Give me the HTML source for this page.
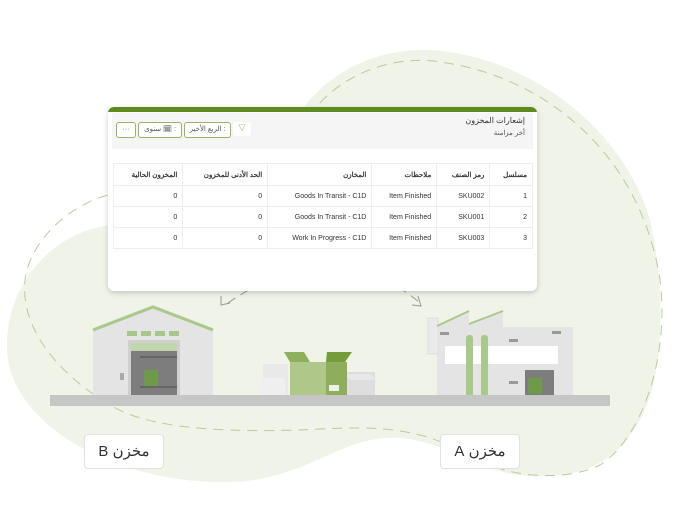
<!DOCTYPE html>
<html><head><meta charset="utf-8"><style>
html,body{margin:0;padding:0;background:#fff;width:692px;height:509px;overflow:hidden;font-family:"Liberation Sans","Noto Sans CJK SC",sans-serif}
.card{position:absolute;left:108px;top:107px;width:429px;height:184px;background:#fff;border-radius:6px;box-shadow:0 2px 6px rgba(0,0,0,.18);overflow:hidden}
.bar{height:5px;background:#5f8a1e}
.head{position:absolute;left:4px;right:4px;top:6px;height:36px;background:#f5f5f5}
.t{position:absolute;font-size:8px;color:#333;white-space:nowrap}
.btn{position:absolute;top:9px;height:14px;border:1px solid #98b36a;border-radius:3px;background:#fff;font-size:7px;color:#555;text-align:center;line-height:14px}
table{position:absolute;left:5px;top:56px;width:420px;border-collapse:collapse;font-size:7px;color:#333}
td{border:1px solid #eee;height:20px;padding:0 5px;text-align:right}
tr:first-child td{font-weight:bold;height:21px}
.lbl{position:absolute;width:78px;height:33px;background:#fff;border:1px solid #e2e2e2;border-radius:4px;font-size:15px;color:#333;text-align:center;line-height:33px;direction:rtl}
</style></head><body>
<svg width="692" height="509" style="position:absolute;left:0;top:0">
<path d="M290,130 C320,70 380,48 430,50 C520,55 620,120 650,220 C668,300 662,380 640,420 C615,465 580,478 530,476 C480,474 450,442 400,438 C340,434 310,480 230,482 C120,484 20,430 8,360 C0,300 40,235 110,225 L290,130 Z" fill="#eff3e8"/>
<g fill="none" stroke="#b9cc9c" stroke-width="1" stroke-dasharray="10,7">
<path d="M320,103 C350,70 400,55 440,62 C540,75 640,150 660,280 C670,360 640,440 600,465 C570,480 520,478 490,465 C460,450 440,440 420,435 C380,425 340,428 300,430 C230,432 150,430 110,405 C60,375 20,330 25,280 C30,240 70,205 108,195"/>
</g>
<g fill="none" stroke="#999" stroke-width="1">
<path d="M228,303 C260,280 300,268 330,270 C370,272 400,285 420,303" stroke-dasharray="9,6"/>
<path d="M221,296 L221,305 L230,303"/>
<path d="M418,296 L421,306 L412,305"/>
</g>
<polygon points="93,328 153,305 213,328 213,396 93,396" fill="#e4e4e4"/>
<polyline points="93,330 153,307 213,330" fill="none" stroke="#a9c98a" stroke-width="3"/>
<g fill="#a6c68a"><rect x="127" y="331" width="10" height="5"/><rect x="141" y="331" width="10" height="5"/><rect x="155" y="331" width="10" height="5"/><rect x="169" y="331" width="10" height="5"/></g>
<rect x="128" y="340" width="52" height="56" fill="#d0d0d0"/>
<rect x="131" y="343" width="46" height="8" fill="#c3d6ab"/>
<rect x="131" y="351" width="46" height="45" fill="#7d7d7d"/>
<rect x="140" y="356" width="37" height="2" fill="#666"/><rect x="140" y="386" width="37" height="2" fill="#666"/>
<rect x="144" y="370" width="14" height="16" fill="#6f9a4a"/>
<rect x="120" y="373" width="4" height="7" fill="#aaa"/>
<rect x="263" y="364" width="25" height="32" fill="#e9e9e9"/>
<rect x="260" y="378" width="25" height="18" fill="#efefef"/>
<rect x="347" y="372" width="28" height="24" fill="#dedede"/>
<polygon points="343,374 370,374 377,380 350,380" fill="#e8e8e8"/>
<polygon points="284,352 304,352 310,362 290,362" fill="#8eaf5b"/>
<polygon points="327,352 352,352 345,362 326,362" fill="#749c3a"/>
<rect x="290" y="362" width="36" height="34" fill="#afc88a"/>
<rect x="326" y="362" width="21" height="34" fill="#8fae5c"/>
<rect x="329" y="385" width="10" height="6" fill="#eef2e6"/>
<rect x="428" y="318" width="10" height="36" fill="#eaeaea" stroke="#dcdcdc"/>
<polygon points="437,326 469,311 469,324 503,311 503,327 573,327 573,396 437,396" fill="#e4e4e4"/>
<line x1="437" y1="326" x2="469" y2="311" stroke="#a9c98a" stroke-width="2"/>
<line x1="469" y1="324" x2="503" y2="311" stroke="#a9c98a" stroke-width="2"/>
<rect x="445" y="346" width="113" height="18" fill="#fff"/>
<rect x="466" y="335" width="7" height="62" rx="3" fill="#a9c98a"/>
<rect x="481" y="335" width="7" height="62" rx="3" fill="#a9c98a"/>
<rect x="525" y="370" width="29" height="26" fill="#7d7d7d"/>
<rect x="528" y="378" width="14" height="16" fill="#6f9a4a"/>
<g fill="#999"><rect x="440" y="332" width="9" height="3"/><rect x="552" y="331" width="9" height="3"/><rect x="509" y="339" width="9" height="3"/><rect x="509" y="381" width="9" height="3"/></g>
<rect x="50" y="395" width="560" height="11" fill="#c6c6c6"/>
</svg>
<div class="card"><div class="bar"></div>
<div class="head">
<div class="t" style="right:8px;top:3px;font-size:8px">إشعارات المخزون</div>
<div class="t" style="right:8px;top:16px;font-size:7px;color:#555">أخر مزامنة</div>
<div class="btn" style="left:121px;width:18px;border:none;color:#6a8f3a">▽</div>
<div class="btn" style="left:72px;width:45px">الربع الأخير :</div>
<div class="btn" style="left:26px;width:42px">سنوى 🗓 :</div>
<div class="btn" style="left:4px;width:18px">···</div>
</div>
<table>
<tr><td>المخزون الحالية</td><td>الحد الأدنى للمخزون</td><td>المخازن</td><td>ملاحظات</td><td>رمز الصنف</td><td>مسلسل</td></tr>
<tr><td>0</td><td>0</td><td>Goods In Transit - C1D</td><td>Item Finished</td><td>SKU002</td><td>1</td></tr>
<tr><td>0</td><td>0</td><td>Goods In Transit - C1D</td><td>Item Finished</td><td>SKU001</td><td>2</td></tr>
<tr><td>0</td><td>0</td><td>Work In Progress - C1D</td><td>Item Finished</td><td>SKU003</td><td>3</td></tr>
</table>
</div>
<div class="lbl" style="left:84px;top:434px">مخزن B</div>
<div class="lbl" style="left:440px;top:434px">مخزن A</div>
</body></html>
